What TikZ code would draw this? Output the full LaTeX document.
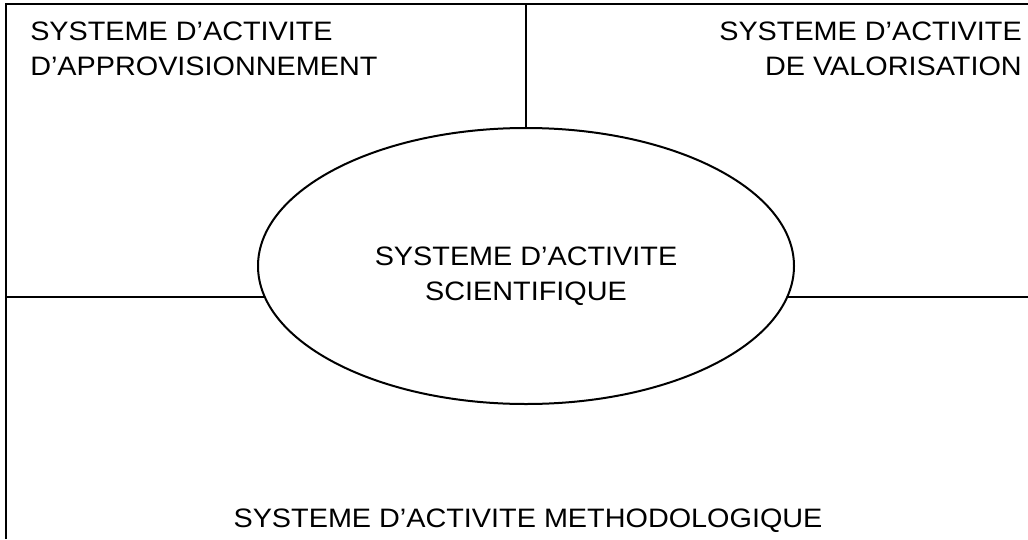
\documentclass[tikz,border=0pt]{standalone}
\usepackage{fontspec}
\setmainfont{Liberation Sans}[FakeStretch=1.08]
\usetikzlibrary{shapes.geometric}
\tikzset{
  lbl/.style={inner sep=0pt, font=\fontsize{20}{26.25}\selectfont},
  sysline/.style={line width=1.5pt}
}
\begin{document}
\begin{tikzpicture}[x=0.75pt, y=-0.75pt]
    \useasboundingbox (0, 0) rectangle (1028, 539);
    % central activity system
    \node[draw, sysline, ellipse, minimum width=402pt, minimum height=207pt] (sci) at (526, 266) {};
    \node[lbl, align=center] (scitxt) at (526, 276) {SYSTEME D’ACTIVITE\\SCIENTIFIQUE};
    \coordinate (topl) at (6, 4);
    \coordinate (topr) at (1028, 4);
    \coordinate (botl) at (6, 539);
    \coordinate (topm) at (526, 4);
    \coordinate (midl) at (6, 297);
    \coordinate (midr) at (1028, 297);
    \draw[sysline] (botl)--(topl)--(topr);
    \draw[sysline] (topm)--(sci.north);
    \draw[sysline] (midl)--(midl -| sci.187.8);
    \draw[sysline] (midr -| sci.-7.8)--(midr);
    % surrounding systems
    \node[lbl, align=left, anchor=west] (appro) at (30, 48.5) {SYSTEME D’ACTIVITE\\D’APPROVISIONNEMENT};
    \node[lbl, align=right, anchor=east] (valo) at (1022, 48.5) {SYSTEME D’ACTIVITE\\DE VALORISATION};
    \node[lbl] (metho) at (528, 521) {SYSTEME D’ACTIVITE METHODOLOGIQUE};
\end{tikzpicture}
\end{document}
